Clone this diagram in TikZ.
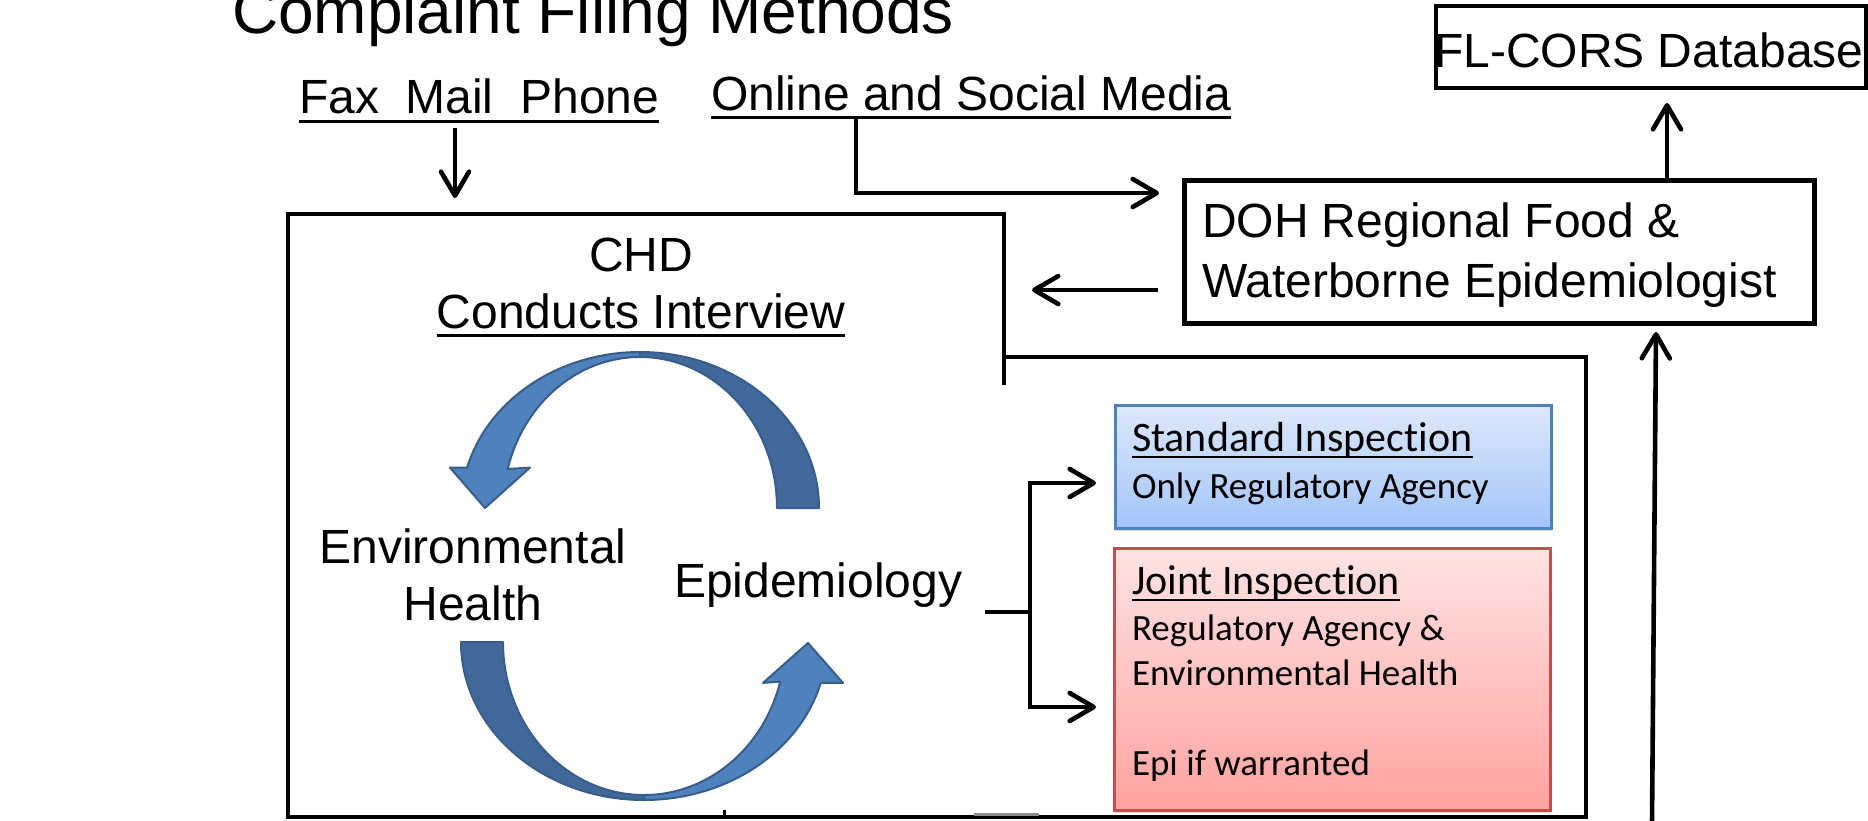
\documentclass[tikz,border=0pt]{standalone}
\usepackage{fontspec}
\setmainfont{Liberation Sans}
\newfontfamily\calibrifont[Ligatures=NoCommon]{Carlito}
\usetikzlibrary{arrows.meta,shadows}
\definecolor{ringlight}{HTML}{4F81BD}
\definecolor{ringdark}{HTML}{406898}
\definecolor{ringedge}{HTML}{385D8A}
\definecolor{stdedge}{HTML}{4F81BD}
\definecolor{stdtop}{HTML}{DDE9FC}
\definecolor{stdbot}{HTML}{A3C4F8}
\definecolor{jntedge}{HTML}{C0504D}
\definecolor{jnttop}{HTML}{FFE3E3}
\definecolor{jntbot}{HTML}{FFA3A0}
\begin{document}
\begin{tikzpicture}[x=1pt,y=-1pt,
  lbl/.style={inner sep=0pt, outer sep=0pt, anchor=base west, font=\fontsize{48}{57}\selectfont},
  lblc/.style={lbl, anchor=base},
  cal/.style={inner sep=0pt, outer sep=0pt, anchor=base west, font=\calibrifont\fontsize{37}{45}\selectfont},
  calh/.style={cal, font=\calibrifont\fontsize{42}{48}\selectfont},
  ul/.style={line width=3pt},
  ulc/.style={line width=2.2pt},
  conn/.style={line width=4.6pt, line join=miter, -{Straight Barb[length=24pt,width=28pt,round]}},
  plainline/.style={line width=4.6pt},
  frame/.style={line width=3.6pt, line join=miter},
  box/.style={draw, line width=5pt, inner sep=0pt, outer sep=0pt, anchor=north west},
  stdbox/.style={draw=stdedge, line width=3pt, inner sep=0pt, outer sep=0pt, anchor=north west,
    top color=stdtop, bottom color=stdbot,
    drop shadow={shadow xshift=1pt, shadow yshift=-3pt, opacity=0.25}},
  jntbox/.style={stdbox, draw=jntedge, top color=jnttop, bottom color=jntbot},
  ringd/.style={fill=ringdark, draw=ringedge, line width=2pt, line join=round},
  ringl/.style={fill=ringlight, draw=ringedge, line width=2pt, line join=round}
]
\useasboundingbox (0,0) rectangle (1868,820);

% title and filing methods
\node[lbl, font=\fontsize{64}{70}\selectfont] (title) at (232,33) {Complaint Filing Methods};
\node[lbl] (fax) at (299,113) {Fax\ \ Mail\ \ Phone};
\draw[ul] ([yshift=-8pt]fax.base west) -- ([yshift=-8pt]fax.base east);
\node[lbl] (online) at (711,110) {Online and Social Media};
\draw[ul] ([yshift=-7pt]online.base west) -- ([yshift=-7pt]online.base east);

% CHD frame
\draw[frame] (1004,385) -- (1004,214) -- (288,214) -- (288,817) -- (1586,817) -- (1586,357) -- (1004,357);
\node[lblc] (chd) at (641,271) {CHD};
\node[lblc] (interview) at (641,328) {Conducts Interview};
\draw[ul] ([yshift=-7pt]interview.base west) -- ([yshift=-7pt]interview.base east);

% circular arrows
\path[ringd] (640,352) arc[start angle=-90, end angle=0, x radius=179, y radius=156]
  -- (777,508) arc[start angle=0, end angle=-90, x radius=137, y radius=151] -- cycle;
\path[ringl] (640,352) arc[start angle=-90, end angle=-165, x radius=179, y radius=156]
  -- (450,467.6) -- (485,508) -- (530,467.6) -- (507.7,468.9)
  arc[start angle=-165, end angle=-90, x radius=137, y radius=151] -- cycle;
\path[ringd] (461,642) arc[start angle=180, end angle=90, x radius=183, y radius=158]
  -- (644,795) arc[start angle=90, end angle=180, x radius=141, y radius=153] -- cycle;
\path[ringl] (644,800) arc[start angle=90, end angle=15, x radius=183, y radius=158]
  -- (843,682.9) -- (808,643) -- (763,682.9) -- (780.2,681.6)
  arc[start angle=15, end angle=90, x radius=141, y radius=153] -- cycle;

\node[lblc] (envh1) at (473,563) {Environmental};
\node[lblc] (envh2) at (473,620) {Health};
\node[lbl] (epi) at (674,597) {Epidemiology};

% DOH and FL-CORS
\node[box, minimum width=630pt, minimum height=143pt] (doh) at (1184,180) {};
\node[lbl] (doh1) at (1202,237) {DOH Regional Food \&};
\node[lbl] (doh2) at (1202,297) {Waterborne Epidemiologist};
\node[box, line width=4pt, minimum width=430pt, minimum height=82pt] (fl) at (1436,6) {};
\node[lbl] (fltext) at (1434,67) {FL-CORS Database};

% inspection boxes
\node[stdbox, minimum width=436pt, minimum height=123pt] (std) at (1115,405) {};
\node[calh] (std1) at (1132,451) {Standard Inspection};
\draw[ulc] ([yshift=-6pt]std1.base west) -- ([yshift=-6pt]std1.base east);
\node[cal] (std2) at (1132,498) {Only Regulatory Agency};

\node[jntbox, minimum width=436pt, minimum height=262pt] (jnt) at (1114,548) {};
\node[calh] (jnt1) at (1132,594) {Joint Inspection};
\draw[ulc] ([yshift=-6pt]jnt1.base west) -- ([yshift=-6pt]jnt1.base east);
\node[cal] (jnt2) at (1132,640) {Regulatory Agency \&};
\node[cal] (jnt3) at (1132,685) {Environmental Health};
\node[cal] (jnt4) at (1132,775) {Epi if warranted};

% connector end points
\coordinate (faxout) at (455,128);
\coordinate (chdin) at (455,198);
\coordinate (onlout) at (856,117);
\coordinate (dohin) at (1159,193);
\coordinate (dohout) at (1158,290);
\coordinate (chdright) at (1032,290);
\coordinate (dohup) at (1667,180);
\coordinate (flin) at (1667,103);
\coordinate (frombelow) at (1652,822);
\coordinate (dohbottom) at (1656,332);
\coordinate (epiout) at (985,612);
\coordinate (split) at (1030,612);
\coordinate (stdin) at (1096,483);
\coordinate (jntin) at (1096,707);

\draw[conn] (faxout) -- (chdin);
\draw[conn] (onlout) |- (dohin);
\draw[conn] (dohout) -- (chdright);
\draw[conn] (dohup) -- (flin);
\draw[conn] (frombelow) -- (dohbottom);
\draw[plainline] (epiout) -- (split);
\draw[conn] (split) |- (stdin);
\draw[conn] (split) |- (jntin);

% remnants at bottom edge
\draw[line width=3pt] (724,810) -- (724,817);
\draw[line width=3pt, black!45] (974,814) -- (1039,814);
\end{tikzpicture}
\end{document}
